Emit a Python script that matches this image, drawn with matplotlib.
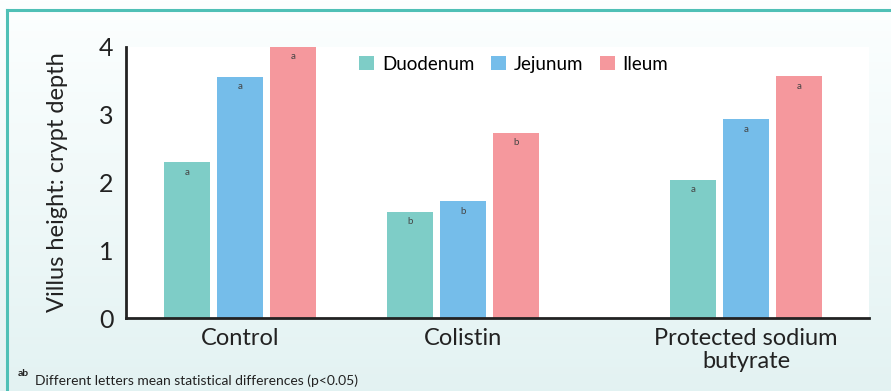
import numpy as np
import matplotlib.pyplot as plt
from matplotlib.lines import Line2D

# datos
grupos = ['Control', 'Colistin', 'Protected sodium\nbutyrate']
pos_grupos = [0.0, 1.0, 2.27]
series = ['Duodenum', 'Jejunum', 'Ileum']
duodenum = [2.30, 1.57, 2.04]
jejunum = [3.56, 1.72, 2.93]
ileum = [4.00, 2.73, 3.57]
letras_duo = ['a', 'b', 'a']
letras_jej = ['a', 'b', 'a']
letras_ile = ['a', 'b', 'a']
colores = ['#7ecdc7', '#75bdea', '#f5989d']

plt.rcParams['font.family'] = ['Lato', 'DejaVu Sans']

fig = plt.figure(figsize=(8.91, 3.91), dpi=100)

# fondo degradado
fondo = fig.add_axes([0, 0, 1, 1], zorder=-10)
grad = np.linspace(0, 1, 256).reshape(-1, 1)
c_arriba = np.array([0.99, 1.0, 1.0])
c_abajo = np.array([0.89, 0.95, 0.95])
img = c_arriba + (c_abajo - c_arriba) * grad[:, :, None]
fondo.imshow(img, aspect='auto', extent=[0, 1, 0, 1])
fondo.axis('off')

# borde
borde = '#4fc0b6'
fig.add_artist(Line2D([7/891, 1], [1 - 10/391, 1 - 10/391], color=borde, lw=2.2, transform=fig.transFigure))
fig.add_artist(Line2D([7/891, 7/891], [0, 1 - 10/391], color=borde, lw=2.2, transform=fig.transFigure))

ax = fig.add_axes([126/891, 1 - 318/391, 743/891, 271/391])
ax.set_facecolor('white')

ancho = 0.206
paso = 0.238
x = np.array(pos_grupos)
valores = [duodenum, jejunum, ileum]
letras = [letras_duo, letras_jej, letras_ile]
for i, (nombre, vals, lets) in enumerate(zip(series, valores, letras)):
    xs = x + (i - 1) * paso
    ax.bar(xs, vals, width=ancho, color=colores[i], label=nombre, zorder=2)
    for xi, v, l in zip(xs, vals, lets):
        ax.text(xi, v - 0.08, l, ha='center', va='top', fontsize=7, color='#444444', zorder=3)

ax.set_ylim(0, 4)
ax.set_xlim(-0.511, 2.821)
ax.set_yticks([0, 1, 2, 3, 4])
ax.set_yticklabels(['0', '1', '2', '3', '4'], fontsize=18)
ax.set_xticks(x)
ax.set_xticklabels(grupos, fontsize=17, linespacing=1.15)
ax.tick_params(axis='both', length=0, colors='#222222')
ax.tick_params(axis='y', pad=9)
ax.tick_params(axis='x', pad=7)
for s in ['top', 'right']:
    ax.spines[s].set_visible(False)
ax.spines['left'].set_linewidth(2)
ax.spines['bottom'].set_linewidth(2)
ax.spines['left'].set_color('#222222')
ax.spines['bottom'].set_color('#222222')

ax.set_ylabel('Villus height: crypt depth', fontsize=17, color='#222222', labelpad=22)

ax.legend(loc='upper center', bbox_to_anchor=(0.522, 1.03), ncol=3, frameon=False,
          fontsize=13.5, handlelength=0.8, handleheight=0.8, handletextpad=0.4,
          columnspacing=0.9)

fig.text(18/891, 1 - 376/391, 'ab', fontsize=7.5, color='#222222', va='baseline', weight='bold')
fig.text(35/891, 1 - 385/391, 'Different letters mean statistical differences (p<0.05)',
         fontsize=10, color='#222222', va='baseline')

fig.savefig('out.png', dpi=100)
